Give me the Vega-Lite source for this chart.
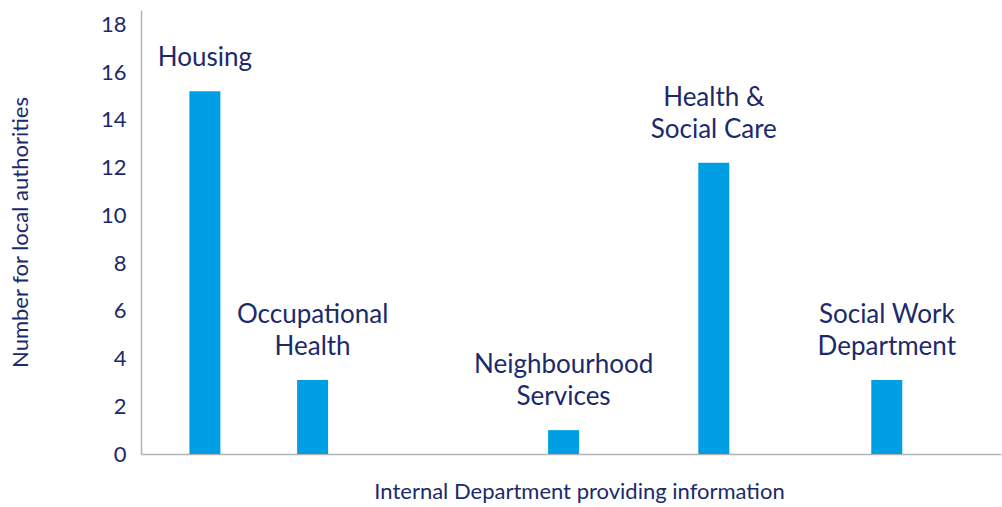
{
  "$schema": "https://vega.github.io/schema/vega-lite/v6.json",
  "width": 860,
  "height": 444,
  "autosize": "none",
  "padding": {"left": 141, "top": 10, "right": 1, "bottom": 53},
  "background": "white",
  "config": {
    "view": {"stroke": null},
    "font": "Lato",
    "axis": {"grid": false, "domainColor": "#b3b3b3", "domainWidth": 1.5, "labelColor": "#1b2a6b", "titleColor": "#1b2a6b", "titleFontWeight": "normal", "labelFont": "Lato", "titleFont": "Lato"}
  },
  "data": {
    "values": [
      {"line1": "", "line2": "Housing", "slot": 6.93, "count": 15.2},
      {"line1": "Occupational", "line2": "Health", "slot": 19.6, "count": 3.1},
      {"line1": "Neighbourhood", "line2": "Services", "slot": 49.13, "count": 1},
      {"line1": "Health &", "line2": "Social Care", "slot": 66.8, "count": 12.2},
      {"line1": "Social Work", "line2": "Department", "slot": 87.15, "count": 3.1}
    ]
  },
  "encoding": {
    "x": {
      "field": "slot",
      "type": "quantitative",
      "scale": {"domain": [0, 100], "nice": false, "zero": false},
      "axis": {"title": "Internal Department providing information", "labels": false, "ticks": false, "titleFontSize": 22, "titlePadding": 27, "titleX": 438}
    },
    "y": {
      "field": "count",
      "type": "quantitative",
      "scale": {"domain": [0, 18.6], "nice": false},
      "axis": {"title": "Number for local authorities", "values": [0, 2, 4, 6, 8, 10, 12, 14, 16, 18], "ticks": false, "labelFontSize": 22, "labelPadding": 15, "titleFontSize": 22, "titlePadding": 68}
    }
  },
  "layer": [
    {"mark": {"type": "bar", "width": 31, "color": "#009fe3"}},
    {
      "mark": {"type": "text", "fontSize": 26, "color": "#1b2a6b", "baseline": "bottom", "align": "center", "dy": -20},
      "encoding": {"text": {"field": "line2"}}
    },
    {
      "mark": {"type": "text", "fontSize": 26, "color": "#1b2a6b", "baseline": "bottom", "align": "center", "dy": -52},
      "encoding": {"text": {"field": "line1"}}
    }
  ]
}
